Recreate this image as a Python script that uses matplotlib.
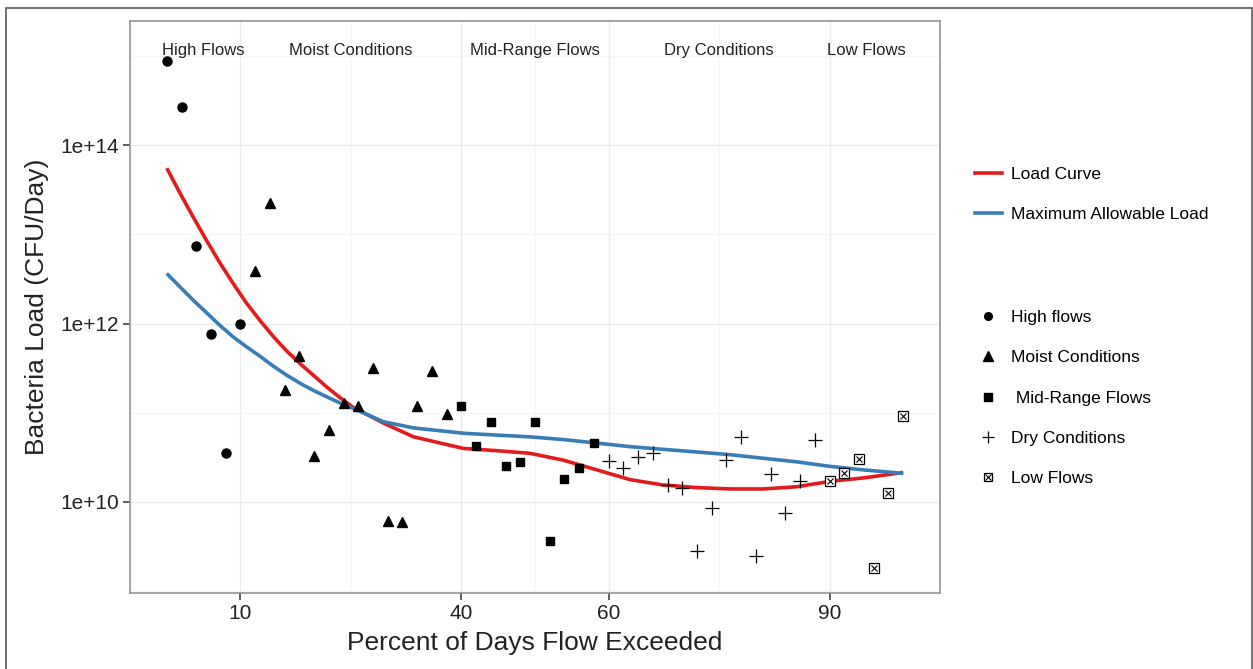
import matplotlib.pyplot as plt
from matplotlib.lines import Line2D
from matplotlib.legend_handler import HandlerTuple
import matplotlib.patches as patches

plt.rcParams['font.family'] = ['Liberation Sans', 'DejaVu Sans']

# samples by flow regime (percent of days flow exceeded, bacteria load)
high_x = [0, 2, 4, 6, 8, 10]
high_y = [8.7e14, 2.7e14, 7.3e12, 7.6e11, 3.5e10, 1.0e12]

moist_x = [12, 14, 16, 18, 20, 22, 24, 26, 28, 30, 32, 34, 36, 38]
moist_y = [3.9e12, 2.25e13, 1.8e11, 4.3e11, 3.3e10, 6.4e10, 1.28e11,
           1.18e11, 3.2e11, 6.2e9, 6.0e9, 1.18e11, 2.9e11, 9.6e10]

mid_x = [40, 42, 44, 46, 48, 50, 52, 54, 56, 58]
mid_y = [1.2e11, 4.2e10, 7.8e10, 2.5e10, 2.8e10, 7.8e10, 3.7e9, 1.8e10,
         2.4e10, 4.6e10]

dry_x = [60, 62, 64, 66, 68, 70, 72, 74, 76, 78, 80, 82, 84, 86, 88]
dry_y = [2.9e10, 2.4e10, 3.2e10, 3.5e10, 1.55e10, 1.45e10, 2.8e9, 8.5e9,
         2.95e10, 5.4e10, 2.5e9, 2.05e10, 7.6e9, 1.7e10, 4.9e10]

low_x = [90, 92, 94, 96, 98, 100]
low_y = [1.7e10, 2.1e10, 3.0e10, 1.8e9, 1.26e10, 9.3e10]

# curves
curve_x = [0, 1.8, 3.6, 5.4, 7.2, 9, 10.8, 12.7, 14.5, 16.3, 18.1, 19.9,
           21.7, 23.5, 25.3, 29.4, 33.5, 40.3, 44.8, 49.3, 53.8, 58.4, 62.9,
           67.4, 72, 76.5, 81, 85.5, 90, 94.6, 100]
load_curve = [5.50e13, 2.88e13, 1.55e13, 8.51e12, 4.79e12, 2.82e12, 1.70e12,
              1.07e12, 7.08e11, 4.90e11, 3.55e11, 2.63e11, 1.95e11, 1.48e11,
              1.15e11, 7.67e10, 5.37e10, 3.98e10, 3.76e10, 3.51e10, 2.95e10,
              2.29e10, 1.78e10, 1.55e10, 1.45e10, 1.40e10, 1.40e10, 1.48e10,
              1.70e10, 1.86e10, 2.14e10]
max_load = [3.63e12, 2.57e12, 1.82e12, 1.32e12, 9.55e11, 7.08e11, 5.50e11,
            4.27e11, 3.31e11, 2.63e11, 2.14e11, 1.78e11, 1.51e11, 1.29e11,
            1.12e11, 7.94e10, 6.76e10, 5.89e10, 5.62e10, 5.37e10, 5.01e10,
            4.57e10, 4.17e10, 3.89e10, 3.63e10, 3.39e10, 3.09e10, 2.82e10,
            2.51e10, 2.29e10, 2.09e10]

zone_names = ['High Flows', 'Moist Conditions', 'Mid-Range Flows',
              'Dry Conditions', 'Low Flows']
zone_x = [5, 25, 50, 75, 95]
zone_y = 1.16e15

x_ticks = [10, 40, 60, 90]
x_minor = [25, 50, 75]
y_ticks = [1e10, 1e12, 1e14]
y_tick_labels = ['1e+10', '1e+12', '1e+14']
y_minor = [1e9, 1e11, 1e13, 1e15]

W, H = 1253, 669
fig = plt.figure(figsize=(W / 100, H / 100), dpi=100)
ax = fig.add_axes([130 / W, (H - 593) / H, 810 / W, 572 / H])

# outer frame around the whole figure
fig.patches.append(patches.Rectangle((5.5 / W, -0.05), 1246 / W, 1.05 - 8 / H,
                                     transform=fig.transFigure, fill=False,
                                     edgecolor='#5a5a5a', lw=1.2))

ax.set_yscale('log')
ax.set_xlim(-5, 105)
ax.set_ylim(10 ** 8.98, 10 ** 15.39)

for v in x_ticks:
    ax.axvline(v, color='#ebebeb', lw=0.9, zorder=0)
for v in x_minor:
    ax.axvline(v, color='#f5f5f5', lw=0.7, zorder=0)
for v in y_ticks:
    ax.axhline(v, color='#ebebeb', lw=0.9, zorder=0)
for v in y_minor:
    ax.axhline(v, color='#f5f5f5', lw=0.7, zorder=0)

red = '#e41a1c'
blue = '#377eb8'
ax.plot(curve_x, load_curve, color=red, lw=2.6, solid_capstyle='butt',
        solid_joinstyle='round', zorder=3)
ax.plot(curve_x, max_load, color=blue, lw=2.6, solid_capstyle='butt',
        solid_joinstyle='round', zorder=3)

ax.plot(high_x, high_y, 'o', color='black', ms=6.5, ls='none', zorder=4)
ax.plot(moist_x, moist_y, '^', color='black', ms=7.5, ls='none', zorder=4)
ax.plot(mid_x, mid_y, 's', color='black', ms=6.3, ls='none', zorder=4)
ax.plot(dry_x, dry_y, '+', color='black', ms=10, mew=0.9, ls='none', zorder=4)
ax.plot(low_x, low_y, 's', mfc='white', mec='black', ms=6.5, mew=0.9,
        ls='none', zorder=4)
ax.plot(low_x, low_y, 'x', color='black', ms=4.5, mew=0.8, ls='none', zorder=5)

for name, zx in zip(zone_names, zone_x):
    ax.text(zx, zone_y, name, ha='center', va='center', fontsize=12,
            color='#222222')

ax.set_xticks(x_ticks)
ax.set_xticklabels([str(t) for t in x_ticks])
ax.set_yticks(y_ticks)
ax.set_yticklabels(y_tick_labels)
ax.minorticks_off()
ax.tick_params(axis='both', length=5, width=1.1, color='#333333',
               labelsize=15, labelcolor='#222222', pad=3)

for s in ax.spines.values():
    s.set_color('#8c8c8c')
    s.set_linewidth(1.1)

ax.set_xlabel('Percent of Days Flow Exceeded', fontsize=19, color='#222222',
              labelpad=6)
ax.set_ylabel('Bacteria Load (CFU/Day)', fontsize=19, color='#222222',
              labelpad=8)

# legend for the curves
line_handles = [Line2D([], [], color=red, lw=2.6),
                Line2D([], [], color=blue, lw=2.6)]
leg1 = ax.legend(line_handles, ['Load Curve', 'Maximum Allowable Load'],
                 loc='upper left', bbox_to_anchor=(975 / W, 1 - 167 / H),
                 bbox_transform=fig.transFigure, frameon=False, fontsize=12.5,
                 handlelength=1.55, handletextpad=0.5, labelspacing=1.42,
                 borderpad=0, borderaxespad=0)
ax.add_artist(leg1)

# legend for the flow regimes
pt = dict(ls='none', color='black')
box = (Line2D([], [], marker='s', mfc='white', mec='black', ms=5.5, mew=0.9,
              ls='none'),
       Line2D([], [], marker='x', color='black', ms=3.8, mew=0.8, ls='none'))
pt_handles = [Line2D([], [], marker='o', ms=5.5, **pt),
              Line2D([], [], marker='^', ms=6.5, **pt),
              Line2D([], [], marker='s', ms=5.5, **pt),
              Line2D([], [], marker='+', ms=9, mew=0.9, **pt),
              box]
pt_labels = ['High flows', 'Moist Conditions', ' Mid-Range Flows',
             'Dry Conditions', 'Low Flows']
ax.legend(pt_handles, pt_labels, loc='upper left',
          bbox_to_anchor=(975 / W, 1 - 310 / H),
          bbox_transform=fig.transFigure, frameon=False, fontsize=12.5,
          handlelength=1.55, handletextpad=0.5, labelspacing=1.45,
          borderpad=0, borderaxespad=0,
          handler_map={tuple: HandlerTuple(ndivide=1, pad=0)})

fig.savefig('out.png', dpi=100)
